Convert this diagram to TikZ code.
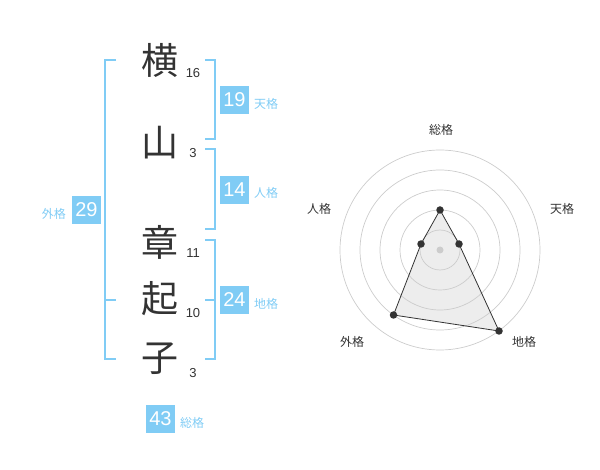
\documentclass[tikz,border=0pt]{standalone}
\usepackage{fontspec}
\usetikzlibrary{calc}
\setmainfont{Liberation Sans}
\newfontfamily\cjk{Noto Sans CJK JP}
\definecolor{sky}{HTML}{80CCF5}
\definecolor{ink}{HTML}{333333}
\definecolor{ring}{HTML}{CCCCCC}
\tikzset{
  kanji/.style={font=\cjk\fontsize{37}{37}\selectfont, text=ink, inner sep=0pt},
  stroke/.style={font=\fontsize{13}{13}\selectfont, text=ink, inner sep=0pt},
  scorebox/.style={fill=sky, text=white, minimum width=29pt, minimum height=28pt, inner sep=0pt, font=\fontsize{20}{20}\selectfont},
  kaku/.style={text=sky, font=\cjk\fontsize{12}{12}\selectfont, inner sep=0pt},
  brk/.style={draw=sky, line width=2pt},
  axislbl/.style={text=ink, font=\cjk\fontsize{12}{12}\selectfont, inner sep=0pt},
  ringline/.style={draw=ring, line width=0.7pt},
  vdot/.style={circle, fill=ink, minimum size=7.5pt, inner sep=0pt},
}
\begin{document}
\begin{tikzpicture}[x=1pt,y=-1pt]
\useasboundingbox (0,0) rectangle (600,470);
% characters
\node[kanji] (c1) at (160,60) {横};
\node[kanji] (c2) at (160,143) {山};
\node[kanji] (c3) at (160,242) {章};
\node[kanji] (c4) at (160,299) {起};
\node[kanji] (c5) at (160,359) {子};
\node[stroke] (n1) at (193,73) {16};
\node[stroke] (n2) at (193,153) {3};
\node[stroke] (n3) at (193,253) {11};
\node[stroke] (n4) at (193,313) {10};
\node[stroke] (n5) at (193,373) {3};
% bracket coordinates
\coordinate (t1) at (205,60);  \coordinate (t2) at (215,60);
\coordinate (t3) at (215,139); \coordinate (t4) at (205,139);
\coordinate (j1) at (205,149); \coordinate (j2) at (215,149);
\coordinate (j3) at (215,229); \coordinate (j4) at (205,229);
\coordinate (d1) at (205,240); \coordinate (d2) at (215,240);
\coordinate (d3) at (215,359); \coordinate (d4) at (205,359);
\coordinate (dm1) at (205,300); \coordinate (dm2) at (215,300);
\coordinate (g1) at (116,60);  \coordinate (g2) at (105,60);
\coordinate (g3) at (105,359); \coordinate (g4) at (116,359);
\coordinate (gm1) at (105,300); \coordinate (gm2) at (116,300);
\draw[brk] (t1) -- (t2) -- (t3) -- (t4);
\draw[brk] (j1) -- (j2) -- (j3) -- (j4);
\draw[brk] (d1) -- (d2) -- (d3) -- (d4);
\draw[brk] (dm1) -- (dm2);
\draw[brk] (g1) -- (g2) -- (g3) -- (g4);
\draw[brk] (gm1) -- (gm2);
% score boxes
\node[scorebox] (s1) at (234.5,100) {19};
\node[kaku, anchor=west] (k1) at (254,104) {天格};
\node[scorebox] (s2) at (234.5,190) {14};
\node[kaku, anchor=west] (k2) at (254,193) {人格};
\node[scorebox] (s3) at (234.5,300) {24};
\node[kaku, anchor=west] (k3) at (254,304) {地格};
\node[scorebox] (s4) at (86.5,210) {29};
\node[kaku, anchor=east] (k4) at (66,214) {外格};
\node[scorebox] (s5) at (160.5,419) {43};
\node[kaku, anchor=west] (k5) at (180,423) {総格};
% radar chart
\coordinate (O) at (440,250);
\coordinate (pS) at (440,210);
\coordinate (pT) at (459,244);
\coordinate (pC) at (499,331);
\coordinate (pG) at (393.5,315);
\coordinate (pJ) at (421,244);
\fill[black!7] (pS) -- (pT) -- (pC) -- (pG) -- (pJ) -- cycle;
\foreach \r in {20,40,60,80,100} \draw[ringline] (O) circle[radius=\r pt];
\fill[ring] (O) circle[radius=3.5pt];
\draw[ink, line width=0.8pt] (pS) -- (pT) -- (pC) -- (pG) -- (pJ) -- cycle;
\node[vdot] (vS) at (pS) {};
\node[vdot] (vT) at (pT) {};
\node[vdot] (vC) at (pC) {};
\node[vdot] (vG) at (pG) {};
\node[vdot] (vJ) at (pJ) {};
\node[axislbl] (aS) at (441,130) {総格};
\node[axislbl] (aT) at (562,209) {天格};
\node[axislbl] (aJ) at (319,209) {人格};
\node[axislbl] (aG) at (352,342) {外格};
\node[axislbl] (aC) at (524,342) {地格};
\end{tikzpicture}
\end{document}
